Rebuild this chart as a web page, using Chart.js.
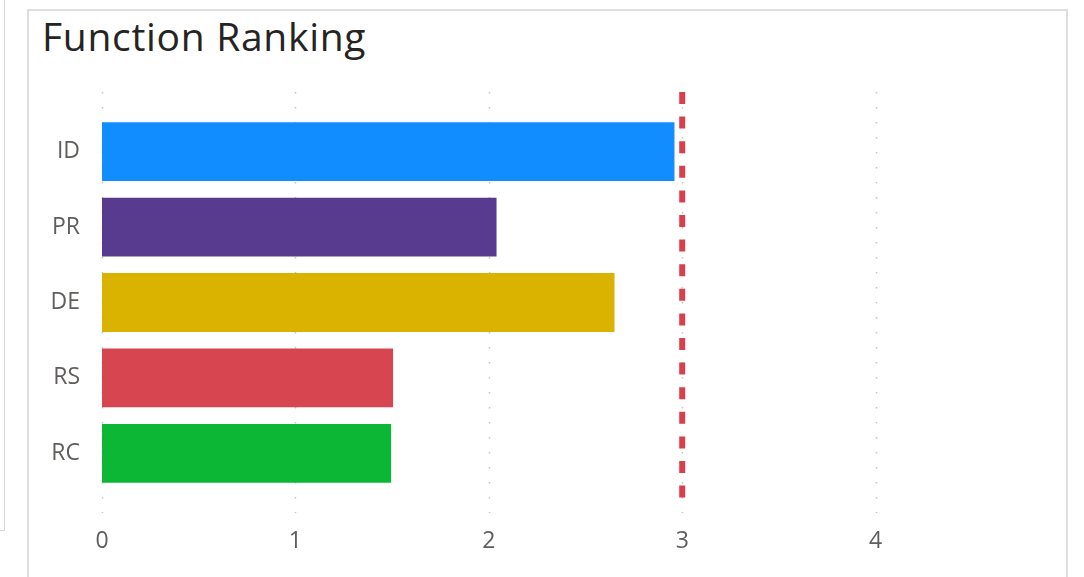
<!DOCTYPE html>
<html>
<head>
<meta charset="utf-8">
<script src="https://cdn.jsdelivr.net/npm/chart.js@4.4.1/dist/chart.umd.min.js"></script>
<style>
  html, body { margin: 0; padding: 0; background: #fff; overflow: hidden; }
  body { width: 1084px; height: 577px; position: relative; }
  #sideBox { position: absolute; left: -10px; top: -10px; width: 13px; height: 539px; border: 1px solid #d6d6d6; }
  #frame { position: absolute; left: 27px; top: 9px; width: 1037px; height: 600px; border: 2px solid #dedede; }
  #title { position: absolute; left: 42px; top: 9px; font-family: 'Open Sans', sans-serif; font-size: 39px; color: #252423; white-space: nowrap; letter-spacing: 0.7px; }
  #myChart { position: absolute; left: 0; top: 0; }
</style>
</head>
<body>
<div id="sideBox"></div>
<div id="frame"></div>
<div id="title">Function Ranking</div>
<canvas id="myChart" width="1084" height="577"></canvas>
<script>
const categories = ['ID', 'PR', 'DE', 'RS', 'RC'];
const scores = [2.96, 2.04, 2.65, 1.505, 1.495];
const barColors = ['#118DFF', '#583B8F', '#D9B300', '#D64550', '#0BB734'];
const targetValue = 3;
const axisMax = 4.85;

// dotted grid + dashed target line, placed through the x scale
const refLines = {
  id: 'refLines',
  beforeDatasetsDraw(chart) {
    const ctx = chart.ctx, x = chart.scales.x, area = chart.chartArea;
    ctx.save();
    ctx.strokeStyle = '#c4c4c4';
    ctx.lineWidth = 1.5;
    ctx.setLineDash([1.5, 13.5]);
    x.ticks.forEach(t => {
      const px = Math.round(x.getPixelForValue(t.value)) + 0.5;
      ctx.beginPath();
      ctx.moveTo(px, area.top - 22);
      ctx.lineTo(px, area.bottom + 22);
      ctx.stroke();
    });
    ctx.restore();
  },
  afterDatasetsDraw(chart) {
    const ctx = chart.ctx, x = chart.scales.x, area = chart.chartArea;
    const px = x.getPixelForValue(targetValue);
    ctx.save();
    ctx.strokeStyle = '#D9404E';
    ctx.lineWidth = 6;
    ctx.setLineDash([12, 12.6]);
    ctx.beginPath();
    ctx.moveTo(px, area.top - 22);
    ctx.lineTo(px, area.bottom + 15);
    ctx.stroke();
    ctx.restore();
  }
};

const tickFont = { family: "'Open Sans', sans-serif", size: 23 };

new Chart(document.getElementById('myChart'), {
  type: 'bar',
  data: {
    labels: categories,
    datasets: [{
      data: scores,
      backgroundColor: barColors,
      borderWidth: 0,
      categoryPercentage: 1,
      barPercentage: 0.78
    }]
  },
  options: {
    indexAxis: 'y',
    responsive: false,
    animation: false,
    layout: { padding: { left: 0, top: 114, right: 44, bottom: 0 } },
    plugins: { legend: { display: false }, tooltip: { enabled: false } },
    scales: {
      x: {
        min: 0,
        max: axisMax,
        grid: { display: false },
        border: { display: false },
        ticks: { stepSize: 1, includeBounds: false, color: '#605E5C', font: tickFont, padding: 29 },
        afterFit(scale) { scale.height = 86; }
      },
      y: {
        grid: { display: false },
        border: { display: false },
        ticks: { color: '#605E5C', font: tickFont, padding: 14 },
        afterFit(scale) { scale.width = 102; }
      }
    }
  },
  plugins: [refLines]
});
</script>
</body>
</html>
